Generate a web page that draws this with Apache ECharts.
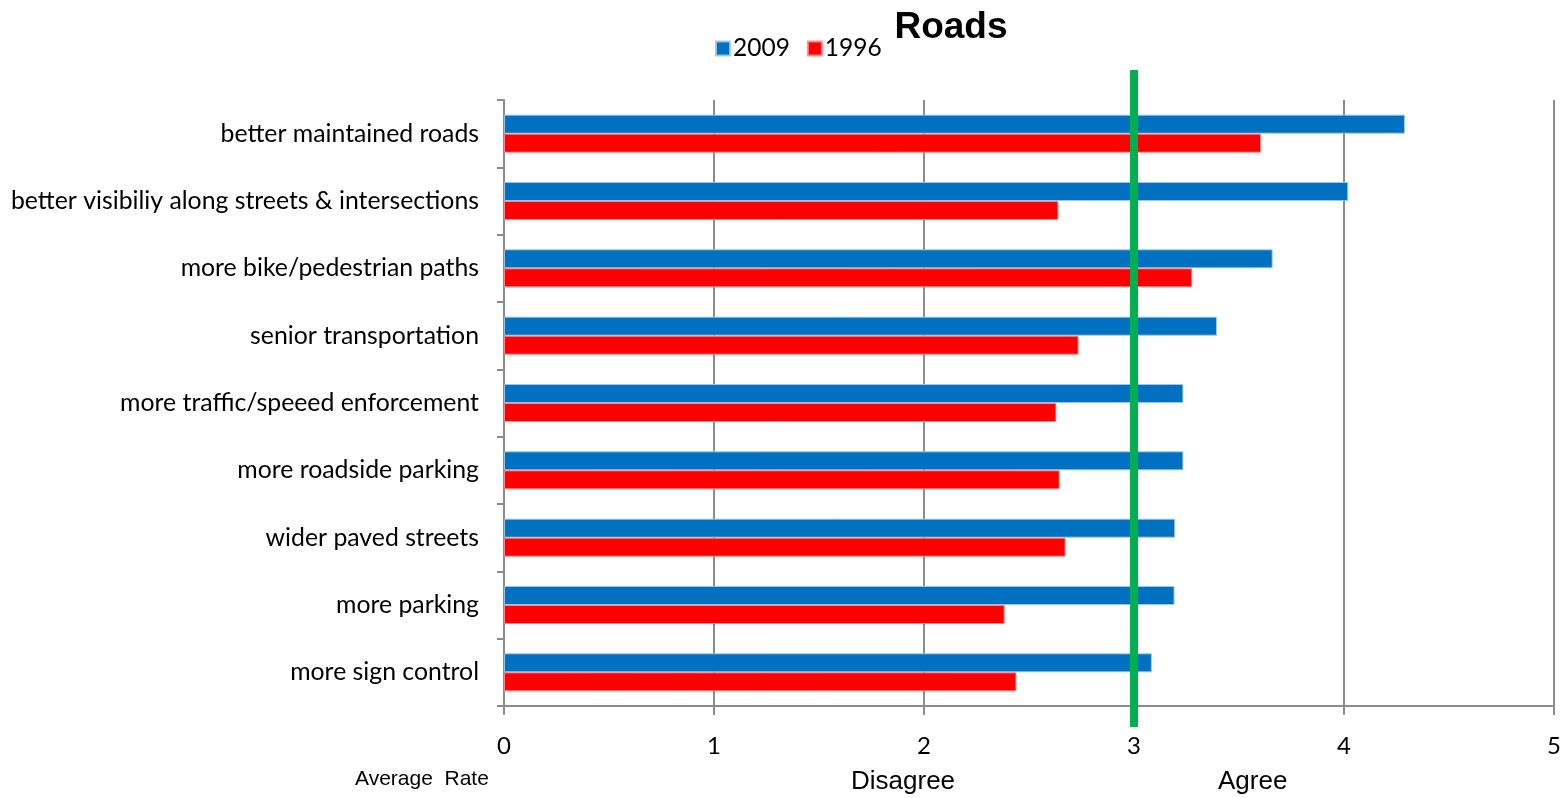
<!DOCTYPE html>
<html>
<head>
<meta charset="utf-8">
<script src="https://cdn.jsdelivr.net/npm/echarts@6/dist/echarts.min.js"></script>
<style>html,body{margin:0;padding:0;background:#fff;overflow:hidden;}#c{width:1564px;height:798px;}</style>
</head>
<body>
<div id="c"></div>
<script>
const categories = [
  'better maintained roads',
  'better visibiliy along streets & intersections',
  'more bike/pedestrian paths',
  'senior transportation',
  'more traffic/speeed enforcement',
  'more roadside parking',
  'wider paved streets',
  'more parking',
  'more sign control'
];
const values2009 = [4.29, 4.02, 3.66, 3.395, 3.235, 3.235, 3.196, 3.193, 3.085];
const values1996 = [3.605, 2.64, 3.277, 2.736, 2.63, 2.646, 2.674, 2.384, 2.44];
const xTicks = [0, 1, 2, 3, 4, 5];
const neutralLine = [3];

const chart = echarts.init(document.getElementById('c'), null, { width: 1564, height: 798 });
const labelFont = 'Lato, "Open Sans", sans-serif';
const arial = '"Liberation Sans", Arial, sans-serif';
chart.setOption({
  animation: false,
  title: {
    text: 'Roads', left: 946, top: 4, textAlign: 'center',
    textStyle: { fontFamily: arial, fontWeight: 'bold', fontSize: 37, color: '#000' }
  },
  legend: {
    left: 710, top: 31, itemWidth: 14, itemHeight: 14, itemGap: 17, icon: 'rect',
    textStyle: { fontFamily: labelFont, fontSize: 24.5, color: '#000', padding: [0, 0, 0, -2] },
    data: ['2009', '1996']
  },
  grid: { left: 504, top: 100, width: 1057, height: 606, containLabel: false },
  xAxis: {
    type: 'value', min: 0, max: 5, interval: 1,
    axisLine: { show: true, lineStyle: { color: '#8c8c8c', width: 2 } },
    axisTick: { show: true, length: 9, lineStyle: { color: '#8c8c8c', width: 2 } },
    splitLine: { show: true, lineStyle: { color: '#8c8c8c', width: 2 } },
    axisLabel: { fontFamily: labelFont, fontSize: 24, color: '#000', margin: 28,
      formatter: v => xTicks.includes(v) ? String(v) : '' }
  },
  yAxis: {
    type: 'category', data: categories, inverse: true,
    axisLine: { show: true, lineStyle: { color: '#8c8c8c', width: 2 } },
    axisTick: { show: true, length: 7, lineStyle: { color: '#8c8c8c', width: 2 } },
    axisLabel: { fontFamily: labelFont, fontSize: 24.8, color: '#000', margin: 25 }
  },
  graphic: [
    { type: 'text', left: 355, top: 769, style: { text: 'Average  Rate', fontFamily: arial, fontSize: 21, fill: '#000' } },
    { type: 'text', left: 851, top: 769, style: { text: 'Disagree', fontFamily: arial, fontSize: 26, fill: '#000' } },
    { type: 'text', left: 1218, top: 769, style: { text: 'Agree', fontFamily: arial, fontSize: 26, fill: '#000' } }
  ],
  series: [
    { name: '2009', type: 'bar', data: values2009, barWidth: 19, barGap: '0%',
      itemStyle: { color: '#0070c0', borderColor: 'rgba(160,200,235,0.9)', borderWidth: 1 } },
    { name: '1996', type: 'bar', data: values1996, barWidth: 19, barGap: '0%',
      itemStyle: { color: '#ff0000', borderColor: 'rgba(255,140,140,0.9)', borderWidth: 1 } },
    { name: 'neutral', type: 'custom', clip: false, silent: true, z: 10,
      data: neutralLine.map(v => [v, 0]),
      renderItem: function (params, api) {
        const x = api.coord([api.value(0), 0])[0];
        const cs = params.coordSys;
        return { type: 'line', shape: { x1: x, y1: cs.y - 30, x2: x, y2: cs.y + cs.height + 21 },
          style: { stroke: '#00b050', lineWidth: 8 } };
      }
    }
  ]
});
</script>
</body>
</html>
